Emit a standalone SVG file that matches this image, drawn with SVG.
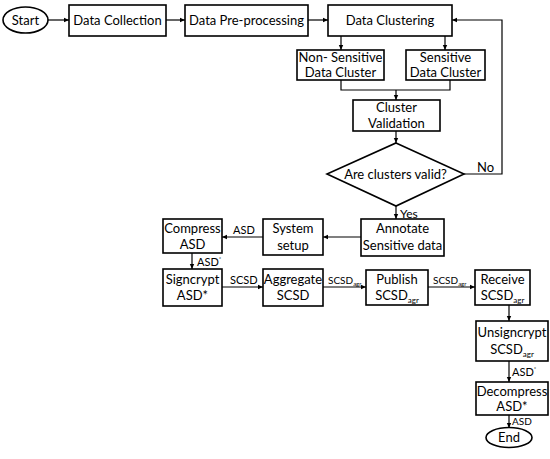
<svg xmlns="http://www.w3.org/2000/svg" width="550" height="459" viewBox="0 0 550 459">
<defs>
<marker id="ah" markerWidth="6" markerHeight="6" refX="5" refY="3" orient="auto" markerUnits="userSpaceOnUse">
<path d="M0,0.8 L5,3 L0,5.2 z" fill="#000"/>
</marker>
<style>
.n{fill:#fff;stroke:#000;stroke-width:1.6}
.t{font-family:Lato,"Liberation Sans",sans-serif;font-size:13px;fill:#000;text-anchor:middle}
.s{font-family:Lato,"Liberation Sans",sans-serif;font-size:10px;fill:#000}
.c{fill:none;stroke:#000;stroke-width:1.2}
.a{marker-end:url(#ah)}
</style>
</defs>
<rect width="550" height="459" fill="#fff"/>
<g id="connectors">
<path class="c a" d="M48,20 H69"/>
<path class="c a" d="M166,20 H185"/>
<path class="c a" d="M308,20 H328"/>
<path class="c a" d="M341,36 V50"/>
<path class="c a" d="M445,36 V50"/>
<path class="c" d="M341,80 V90 H450 V80"/>
<path class="c a" d="M396,90 V100"/>
<path class="c a" d="M396,131 V143"/>
<path class="c a" d="M464,174 H502 V20 H452"/>
<text class="s" x="477" y="172" style="font-size:13px">No</text>
<path class="c a" d="M396,206 V219"/>
<text class="s" x="400" y="218" style="font-size:12px">Yes</text>
<path class="c a" d="M361,237 H323"/>
<path class="c a" d="M263,237 H222"/>
<text class="s" x="233" y="234" style="font-size:11px">ASD</text>
<path class="c a" d="M192,253 V269"/>
<text class="s" x="197" y="266" style="font-size:11px">ASD<tspan dy="-5" font-size="6">*</tspan></text>
<path class="c a" d="M222,287 H263"/>
<text class="s" x="230" y="284" style="font-size:11px">SCSD</text>
<path class="c a" d="M323,287 H366"/>
<text class="s" x="328" y="284">SCSD<tspan dy="2" font-size="6">agr</tspan></text>
<path class="c a" d="M428,287 H475"/>
<text class="s" x="433" y="284">SCSD<tspan dy="2" font-size="6">agr</tspan></text>
<path class="c a" d="M509,305 V321"/>
<path class="c a" d="M509,361 V382"/>
<text class="s" x="512" y="376" style="font-size:11px">ASD<tspan dy="-5" font-size="6">*</tspan></text>
<path class="c a" d="M509,415 V428"/>
<text class="s" x="512" y="425" style="font-size:10px">ASD</text>
</g>
<g id="start"><ellipse class="n" cx="25.5" cy="20" rx="22.5" ry="13"/><text class="t" x="25.5" y="25">Start</text></g>
<g id="collection"><rect class="n" x="69" y="5" width="97" height="31"/><text class="t" x="117.5" y="25">Data Collection</text></g>
<g id="preprocessing"><rect class="n" x="185" y="5" width="123" height="31"/><text class="t" x="246.5" y="25">Data Pre-processing</text></g>
<g id="clustering"><rect class="n" x="328" y="5" width="124" height="31"/><text class="t" x="390" y="25">Data Clustering</text></g>
<g id="nonsensitive"><rect class="n" x="297" y="50" width="87" height="30"/><text class="t" x="340.5" y="62">Non- Sensitive</text><text class="t" x="340.5" y="77">Data Cluster</text></g>
<g id="sensitive"><rect class="n" x="406" y="50" width="79" height="30"/><text class="t" x="445.5" y="62">Sensitive</text><text class="t" x="445.5" y="77">Data Cluster</text></g>
<g id="validation"><rect class="n" x="353" y="100" width="87" height="31"/><text class="t" x="396.5" y="112">Cluster</text><text class="t" x="396.5" y="128">Validation</text></g>
<g id="decision"><polygon class="n" points="396,143 464,174 396,206 327,174"/><text class="t" x="395.5" y="179">Are clusters valid?</text></g>
<g id="annotate"><rect class="n" x="361" y="219" width="83" height="37"/><text class="t" x="402.5" y="233">Annotate</text><text class="t" x="402.5" y="250">Sensitive data</text></g>
<g id="setup"><rect class="n" x="263" y="219" width="60" height="36"/><text class="t" x="293" y="233">System</text><text class="t" x="293" y="250">setup</text></g>
<g id="compress"><rect class="n" x="163" y="219" width="59" height="34"/><text class="t" x="192.5" y="233">Compress</text><text class="t" x="192.5" y="249">ASD</text></g>
<g id="signcrypt"><rect class="n" x="163" y="269" width="59" height="37"/><text class="t" x="192.5" y="284">Signcrypt</text><text class="t" x="192.5" y="300">ASD*</text></g>
<g id="aggregate"><rect class="n" x="263" y="269" width="60" height="37"/><text class="t" x="293" y="284">Aggregate</text><text class="t" x="293" y="300">SCSD</text></g>
<g id="publish"><rect class="n" x="366" y="270" width="62" height="35"/><text class="t" x="397" y="284">Publish</text><text class="t" x="397" y="300">SCSD<tspan dy="3" font-size="8">agr</tspan></text></g>
<g id="receive"><rect class="n" x="475" y="270" width="55" height="35"/><text class="t" x="502.5" y="284">Receive</text><text class="t" x="502.5" y="300">SCSD<tspan dy="3" font-size="8">agr</tspan></text></g>
<g id="unsigncrypt"><rect class="n" x="476" y="321" width="72" height="40"/><text class="t" x="512" y="337">Unsigncrypt</text><text class="t" x="512" y="354">SCSD<tspan dy="3" font-size="8">agr</tspan></text></g>
<g id="decompress"><rect class="n" x="476" y="382" width="72" height="33"/><text class="t" x="512" y="396">Decompress</text><text class="t" x="512" y="411">ASD*</text></g>
<g id="end"><ellipse class="n" cx="509" cy="437.5" rx="23" ry="10"/><text class="t" x="509" y="442">End</text></g>
</svg>
